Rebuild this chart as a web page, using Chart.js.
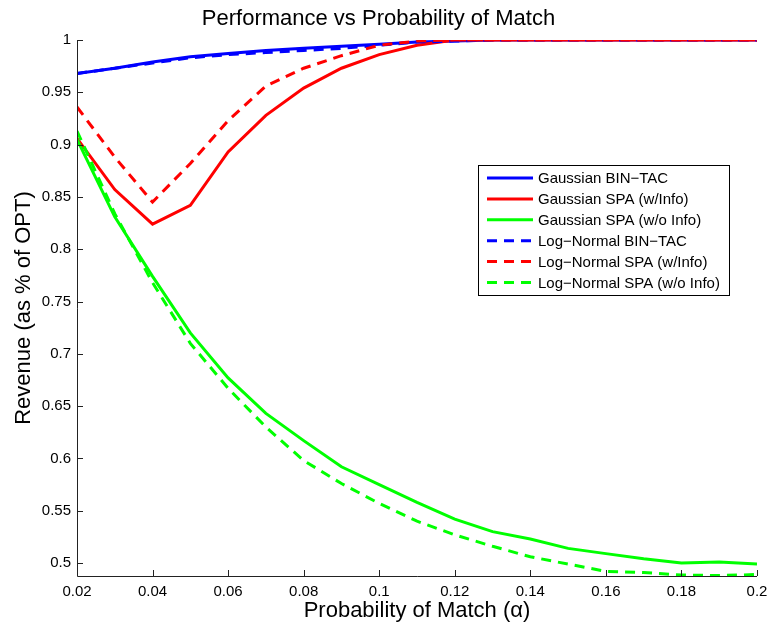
<!DOCTYPE html>
<html>
<head>
<meta charset="utf-8">
<script src="https://cdn.jsdelivr.net/npm/chart.js@4"></script>
<style>
  html, body { margin: 0; padding: 0; background: #fff; }
  #wrap { width: 770px; height: 626px; }
</style>
</head>
<body>
<div id="wrap"><canvas id="perfChart" width="770" height="626"></canvas></div>
<script>
// x values (probability of match)
const alpha = [0.02, 0.03, 0.04, 0.05, 0.06, 0.07, 0.08, 0.09, 0.10, 0.11,
               0.12, 0.13, 0.14, 0.15, 0.16, 0.17, 0.18, 0.19, 0.20];

// revenue as fraction of OPT
const gaussBinTac   = [0.968, 0.973, 0.979, 0.984, 0.987, 0.990, 0.992, 0.994, 0.996, 0.998,
                       0.999, 1, 1, 1, 1, 1, 1, 1, 1];
const gaussSpaInfo  = [0.906, 0.857, 0.824, 0.842, 0.893, 0.928, 0.954, 0.973, 0.986, 0.995,
                       1, 1, 1, 1, 1, 1, 1, 1, 1];
const gaussSpaNo    = [0.905, 0.831, 0.774, 0.720, 0.677, 0.643, 0.617, 0.592, 0.575, 0.558,
                       0.542, 0.530, 0.523, 0.514, 0.509, 0.504, 0.500, 0.501, 0.499];
const lnBinTac      = [0.968, 0.973, 0.978, 0.983, 0.986, 0.988, 0.990, 0.992, 0.995, 0.998,
                       0.999, 1, 1, 1, 1, 1, 1, 1, 1];
const lnSpaInfo     = [0.936, 0.888, 0.845, 0.882, 0.923, 0.956, 0.973, 0.985, 0.995, 0.999,
                       1, 1, 1, 1, 1, 1, 1, 1, 1];
const lnSpaNo       = [0.913, 0.834, 0.768, 0.710, 0.667, 0.630, 0.598, 0.576, 0.557, 0.540,
                       0.527, 0.516, 0.506, 0.499, 0.492, 0.491, 0.4885, 0.488, 0.489];

const seriesNames = ['Gaussian BIN\u2212TAC', 'Gaussian SPA (w/Info)', 'Gaussian SPA (w/o Info)',
                     'Log\u2212Normal BIN\u2212TAC', 'Log\u2212Normal SPA (w/Info)', 'Log\u2212Normal SPA (w/o Info)'];
const seriesValues = [gaussBinTac, gaussSpaInfo, gaussSpaNo, lnBinTac, lnSpaInfo, lnSpaNo];
const seriesColors = ['#0000ff', '#ff0000', '#00ff00', '#0000ff', '#ff0000', '#00ff00'];

const xTicks = [0.02, 0.04, 0.06, 0.08, 0.1, 0.12, 0.14, 0.16, 0.18, 0.2];
const yTicks = [0.5, 0.55, 0.6, 0.65, 0.7, 0.75, 0.8, 0.85, 0.9, 0.95, 1];

const FONT = "'Liberation Sans', Arial, Helvetica, sans-serif";
const fmt = v => String(Number(v.toFixed(2)));

// MATLAB style axes: inward tick marks, no box
const axesPlugin = {
  id: 'matlabAxes',
  afterDatasetsDraw(chart) {
    const ctx = chart.ctx;
    const a = chart.chartArea;
    const xs = chart.scales.x, ys = chart.scales.y;
    ctx.save();
    ctx.strokeStyle = '#222';
    ctx.lineWidth = 1;
    ctx.beginPath();
    ctx.moveTo(a.left + 0.5, a.top);
    ctx.lineTo(a.left + 0.5, a.bottom + 0.5);
    ctx.lineTo(a.right, a.bottom + 0.5);
    xTicks.forEach(v => {
      const px = Math.round(xs.getPixelForValue(v)) + 0.5;
      ctx.moveTo(px, a.bottom);
      ctx.lineTo(px, a.bottom - 6);
    });
    yTicks.forEach(v => {
      const py = Math.round(ys.getPixelForValue(v)) + 0.5;
      ctx.moveTo(a.left, py);
      ctx.lineTo(a.left + 6, py);
    });
    ctx.stroke();
    ctx.restore();
  }
};

// legend box inside the plot
const legendPlugin = {
  id: 'boxLegend',
  afterDraw(chart) {
    const ctx = chart.ctx;
    const x0 = 478, y0 = 165, w = 251, h = 130;
    ctx.save();
    ctx.fillStyle = '#fff';
    ctx.fillRect(x0, y0, w, h);
    ctx.strokeStyle = '#000';
    ctx.lineWidth = 1;
    ctx.strokeRect(x0 + 0.5, y0 + 0.5, w, h);
    chart.data.datasets.forEach((ds, i) => {
      const y = y0 + 13 + i * 20.9;
      ctx.strokeStyle = ds.borderColor;
      ctx.lineWidth = 3;
      ctx.setLineDash(ds.borderDash || []);
      ctx.beginPath();
      ctx.moveTo(487, y);
      ctx.lineTo(533, y);
      ctx.stroke();
      ctx.setLineDash([]);
      ctx.fillStyle = '#000';
      ctx.font = '15px ' + FONT;
      ctx.textBaseline = 'middle';
      ctx.textAlign = 'left';
      ctx.fillText(ds.label, 538, y + 1);
    });
    ctx.restore();
  }
};

const datasets = seriesNames.map((name, i) => ({
  label: name,
  data: alpha.map((a, j) => ({ x: a, y: seriesValues[i][j] })),
  borderColor: seriesColors[i],
  backgroundColor: seriesColors[i],
  borderWidth: 3,
  borderDash: i >= 3 ? [10, 7] : [],
  pointRadius: 0,
  fill: false,
  tension: 0,
  order: 5 - i
}));

const ctx = document.getElementById('perfChart').getContext('2d');
new Chart(ctx, {
  type: 'line',
  data: { datasets: datasets },
  plugins: [axesPlugin, legendPlugin],
  options: {
    responsive: false,
    animation: false,
    layout: { padding: { left: 0, right: 13, top: 0, bottom: 0 } },
    scales: {
      x: {
        type: 'linear',
        min: 0.02,
        max: 0.2,
        afterBuildTicks: s => { s.ticks = xTicks.map(v => ({ value: v })); },
        afterFit: s => { s.height = 50; s.paddingLeft = 0; s.paddingRight = 0; },
        grid: { display: false, drawTicks: false },
        border: { display: false },
        ticks: {
          color: '#000',
          font: { family: FONT, size: 15 },
          padding: 7,
          maxRotation: 0,
          autoSkip: false,
          callback: v => fmt(v)
        },
        title: {
          display: true,
          text: 'Probability of Match (\u03b1)',
          color: '#000',
          font: { family: FONT, size: 22 },
          padding: { top: 0, bottom: 2 }
        }
      },
      y: {
        type: 'linear',
        min: 0.4876,
        max: 1,
        afterBuildTicks: s => { s.ticks = yTicks.map(v => ({ value: v })); },
        afterFit: s => { s.width = 77; },
        grid: { display: false, drawTicks: false },
        border: { display: false },
        ticks: {
          color: '#000',
          font: { family: FONT, size: 15 },
          padding: 6,
          autoSkip: false,
          callback: v => fmt(v)
        },
        title: {
          display: true,
          text: 'Revenue (as % of OPT)',
          color: '#000',
          font: { family: FONT, size: 22 },
          padding: { top: 11, bottom: 0 }
        }
      }
    },
    plugins: {
      legend: { display: false },
      tooltip: { enabled: false },
      title: {
        display: true,
        text: 'Performance vs Probability of Match',
        color: '#000',
        font: { family: FONT, size: 22, weight: 'normal' },
        padding: { top: 6, bottom: 7.6 }
      }
    }
  }
});
</script>
</body>
</html>
